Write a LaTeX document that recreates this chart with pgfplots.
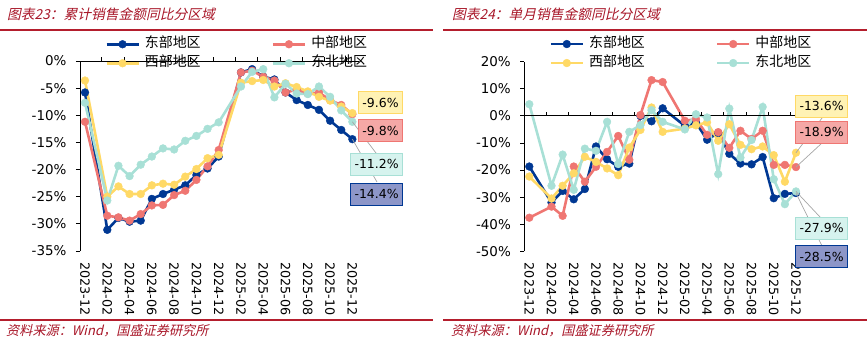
\documentclass[border=0pt]{standalone}
\usepackage{fontspec}
\usepackage{pgfplots}
\usepackage{pgfplotstable}
\pgfplotsset{compat=1.18}
\setmainfont{DejaVu Sans}
\newfontfamily\cjk{Noto Sans CJK SC}
\newfontfamily\cjkit[FakeSlant=0.22]{Noto Sans CJK SC}
\definecolor{cE}{RGB}{0,56,147}
\definecolor{cC}{RGB}{239,118,114}
\definecolor{cW}{RGB}{255,217,102}
\definecolor{cN}{RGB}{168,224,214}
\definecolor{ttl}{RGB}{168,22,40}
\definecolor{rl}{RGB}{180,30,45}
\definecolor{bY}{RGB}{255,242,180}
\definecolor{bC}{RGB}{245,168,166}
\definecolor{bN}{RGB}{214,243,238}
\definecolor{bE}{RGB}{141,150,200}
\definecolor{ldr}{RGB}{166,166,166}

\pgfplotstableread{
x east central west ne
0 -5.8 -11.2 -3.6 -7.7
2 -31.1 -28.5 -25.0 -25.7
3 -28.9 -28.8 -23.1 -19.3
4 -29.6 -29.4 -24.5 -21.2
5 -29.4 -28.2 -24.5 -19.1
6 -25.4 -26.6 -22.9 -17.6
7 -24.5 -26.5 -22.6 -16.1
8 -23.7 -24.7 -22.8 -16.3
9 -22.9 -23.9 -21.3 -14.7
10 -21.0 -21.9 -19.9 -13.8
11 -19.8 -19.4 -17.9 -12.5
12 -17.6 -16.4 -17.3 -11.3
14 -2.1 -2.1 -4.0 -4.7
15 -1.5 -1.8 -3.7 -2.0
16 -2.9 -2.9 -3.5 -1.5
17 -3.4 -3.6 -4.7 -6.7
18 -5.8 -5.8 -4.1 -4.2
19 -7.2 -5.3 -4.8 -6.0
20 -8.1 -6.0 -5.6 -6.1
21 -9.0 -5.8 -6.6 -4.7
22 -11.0 -7.2 -7.3 -6.6
23 -12.7 -8.1 -8.4 -9.1
24 -14.4 -9.8 -9.6 -11.2
}\cum

\pgfplotstableread{
x east central west ne
0 -18.7 -37.6 -22.4 4.3
2 -32.0 -33.5 -30.5 -25.8
3 -27.7 -36.9 -25.8 -14.3
4 -30.8 -18.7 -21.2 -27.3
5 -27.0 -24.3 -15.1 -12.1
6 -11.3 -18.8 -17.0 -12.9
7 -16.0 -13.3 -19.4 -2.2
8 -18.8 -7.4 -21.9 -17.8
9 -17.6 -16.2 -11.7 -5.9
10 0.0 0.3 -5.2 -3.4
11 -2.0 13.2 3.1 2.1
12 2.8 12.5 -5.9 -2.2
14 -3.7 -1.8 -4.7 -5.0
15 -2.5 -1.2 -3.5 0.6
16 -8.8 -7.0 -2.4 -0.6
17 -6.3 -6.0 -9.2 -21.5
18 -14.0 -11.8 -3.1 2.7
19 -17.6 -5.5 -10.7 -15.4
20 -17.9 -8.5 -12.3 -8.9
21 -15.2 -5.5 -11.3 3.3
22 -30.4 -18.1 -14.5 -23.4
23 -28.8 -18.1 -24.3 -32.6
24 -28.5 -18.9 -13.6 -27.9
}\mon

\tikzset{
  lbl/.style={draw=#1, line width=0.8bp, font=\fontsize{12.5}{12.5}\selectfont, inner xsep=4bp, minimum height=22bp, anchor=east},
}
\pgfplotsset{
  legend image code/.code={\draw[mark repeat=2,mark phase=2,#1] plot coordinates {(0bp,0bp) (16bp,0bp) (32bp,0bp)};},
  ser/.style={color=#1, line width=2.6bp, mark=*, mark size=3.9bp, mark options={fill=#1, draw=#1, line width=0.4bp}},
  base/.style={
    scale only axis, anchor=north west, clip=false,
    xmin=-0.45, xmax=24.55,
    axis y line*=left, axis x line*=bottom,
    x axis line style={draw=none},
    xtick={0,2,...,24},
    xticklabels={2023-12,2024-02,2024-04,2024-06,2024-08,2024-10,2024-12,2025-02,2025-04,2025-06,2025-08,2025-10,2025-12},
    xtick style={draw=none},
    xticklabel style={rotate=-90, anchor=west, xshift=4bp, font=\fontsize{12.8}{12.8}\selectfont},
    yticklabel style={xshift=-6bp, font=\fontsize{13.5}{13.5}\selectfont},
    yticklabel={\pgfmathprintnumber{\tick}\%},
    /pgf/number format/assume math mode=true,
    ytick style={black, line width=0.8bp},
    y axis line style={black, line width=0.8bp},
    tick align=outside, major tick length=4bp,
    legend columns=2,
    legend cell align=left,
    legend style={draw=none, fill=none, inner sep=0pt, font=\cjk\fontsize{14}{14}\selectfont, anchor=north west,
       /tikz/every even column/.append style={column sep=70bp},
       /tikz/every odd column/.append style={column sep=4bp},
       nodes={inner sep=1bp, text height=10.5bp, text depth=3bp},
       row sep=3.5bp},
  },
}

\begin{document}
\begin{tikzpicture}
\useasboundingbox (0,0) rectangle (867bp,-355bp);

% titles and rules
\node[anchor=west, inner sep=0pt, text=ttl, font=\cjkit\fontsize{13.8}{13.8}\selectfont] at (7bp,-14bp) {图表23：累计销售金额同比分区域};
\node[anchor=west, inner sep=0pt, text=ttl, font=\cjkit\fontsize{13.8}{13.8}\selectfont] at (452bp,-14bp) {图表24：单月销售金额同比分区域};
\draw[rl, line width=1.1bp] (0bp,-30bp) -- (433bp,-30bp);
\draw[rl, line width=1.1bp] (443bp,-30bp) -- (867bp,-30bp);
\draw[rl, line width=1.1bp] (0bp,-320bp) -- (433bp,-320bp);
\draw[rl, line width=1.1bp] (443bp,-320bp) -- (867bp,-320bp);
\node[anchor=west, inner sep=0pt, text=ttl, font=\cjkit\fontsize{13.2}{13.2}\selectfont] at (6bp,-331bp) {资料来源：Wind，国盛证券研究所};
\node[anchor=west, inner sep=0pt, text=ttl, font=\cjkit\fontsize{13.2}{13.2}\selectfont] at (451bp,-331bp) {资料来源：Wind，国盛证券研究所};

% left chart
\begin{axis}[base, at={(80bp,-61bp)}, width=278.5bp, height=190bp,
  ymin=-35, ymax=0, ytick={-35,-30,...,0},
  legend style={at={(0.09,1.13)}}]
\addplot[ser=cE] table[x=x,y=east] {\cum};
\addplot[ser=cC] table[x=x,y=central] {\cum};
\addplot[ser=cW] table[x=x,y=west] {\cum};
\addplot[ser=cN] table[x=x,y=ne] {\cum};
\legend{东部地区,中部地区,西部地区,东北地区}
\draw[black, line width=0.8bp] (axis cs:-0.45,0) -- (axis cs:24.55,0);
\pgfplotsinvokeforeach{1.5,3.5,5.5,7.5,9.5,11.5,13.5,15.5,17.5,19.5,21.5,23.5}{\draw[black, line width=0.8bp] (axis cs:#1,0) -- ([yshift=4bp]axis cs:#1,0);}
\coordinate (LN) at (axis cs:24,-11.2);
\coordinate (LE) at (axis cs:24,-14.4);
\end{axis}

% right chart
\begin{axis}[base, at={(524.3bp,-61.7bp)}, width=277.8bp, height=189.6bp,
  ymin=-50, ymax=20, ytick={-50,-40,...,20},
  legend style={at={(0.09,1.135)}}]
\addplot[ser=cE] table[x=x,y=east] {\mon};
\addplot[ser=cC] table[x=x,y=central] {\mon};
\addplot[ser=cW] table[x=x,y=west] {\mon};
\addplot[ser=cN] table[x=x,y=ne] {\mon};
\legend{东部地区,中部地区,西部地区,东北地区}
\draw[black, line width=0.8bp] (axis cs:-0.45,0) -- (axis cs:24.55,0);
\pgfplotsinvokeforeach{1.5,3.5,5.5,7.5,9.5,11.5,13.5,15.5,17.5,19.5,21.5,23.5}{\draw[black, line width=0.8bp] (axis cs:#1,0) -- ([yshift=4bp]axis cs:#1,0);}
\coordinate (RW) at (axis cs:24,-13.6);
\coordinate (RC) at (axis cs:24,-18.9);
\coordinate (RN) at (axis cs:24,-27.9);
\coordinate (RE) at (axis cs:24,-28.5);
\end{axis}

% leader lines
\draw[ldr, line width=0.7bp] (LN) -- (376bp,-153bp);
\draw[ldr, line width=0.7bp] (LE) -- (377bp,-182bp);
\draw[ldr, line width=0.7bp] (RW) -- (822bp,-118bp);
\draw[ldr, line width=0.7bp] (RC) -- (822bp,-143bp);
\draw[ldr, line width=0.7bp] (RN) -- (820bp,-217bp);
\draw[ldr, line width=0.7bp] (RE) -- (822bp,-246bp);

% data label boxes
\node[lbl=cW, fill=bY] at (403bp,-102.5bp) {-9.6\%};
\node[lbl=cC, fill=bC] at (403bp,-130.5bp) {-9.8\%};
\node[lbl=cN, fill=bN] at (403bp,-164bp) {-11.2\%};
\node[lbl=cE, fill=bE] at (403bp,-194bp) {-14.4\%};
\node[lbl=cW, fill=bY] at (848bp,-106bp) {-13.6\%};
\node[lbl=cC, fill=bC] at (848bp,-132bp) {-18.9\%};
\node[lbl=cN, fill=bN] at (848bp,-228bp) {-27.9\%};
\node[lbl=cE, fill=bE] at (848bp,-256.5bp) {-28.5\%};
\end{tikzpicture}
\end{document}
